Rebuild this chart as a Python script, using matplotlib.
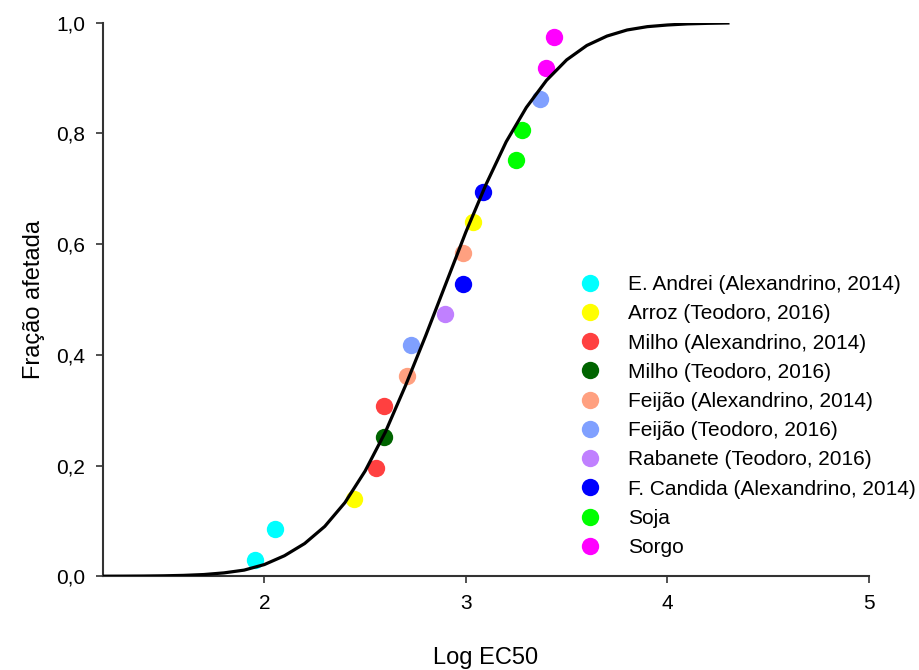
import matplotlib.pyplot as plt
from matplotlib.ticker import FuncFormatter

plt.rcParams['font.family'] = ['Liberation Sans', 'DejaVu Sans']

# fitted curve
curve_x = [1.2, 1.3, 1.4, 1.5, 1.6, 1.7, 1.8, 1.9, 2.0, 2.1, 2.2, 2.3, 2.4, 2.5,
           2.6, 2.7, 2.8, 2.9, 3.0, 3.1, 3.2, 3.3, 3.4, 3.5, 3.6, 3.7, 3.8, 3.9,
           4.0, 4.1, 4.2, 4.3]
curve_y = [0.0, 0.0001, 0.0003, 0.0007, 0.0015, 0.003, 0.006, 0.011, 0.021, 0.037,
           0.059, 0.09, 0.133, 0.19, 0.26, 0.344, 0.434, 0.528, 0.622, 0.708,
           0.785, 0.847, 0.896, 0.933, 0.959, 0.976, 0.987, 0.993, 0.996, 0.998,
           0.999, 0.9996]

labels = ['E. Andrei (Alexandrino, 2014)', 'Arroz (Teodoro, 2016)',
          'Milho (Alexandrino, 2014)', 'Milho (Teodoro, 2016)',
          'Feijão (Alexandrino, 2014)', 'Feijão (Teodoro, 2016)',
          'Rabanete (Teodoro, 2016)', 'F. Candida (Alexandrino, 2014)',
          'Soja', 'Sorgo']
colors = ['#00FFFF', '#FFFF00', '#FF4040', '#006400', '#FFA080',
          '#80A0FF', '#C080FF', '#0000FF', '#00FF00', '#FF00FF']
xs = [[1.955, 2.055], [2.443, 3.035], [2.552, 2.592], [2.592],
      [2.706, 2.985], [2.726, 3.368], [2.896], [2.985, 3.085],
      [3.249, 3.279], [3.398, 3.438]]
ys = [[0.029, 0.085], [0.139, 0.640], [0.195, 0.307], [0.251],
      [0.362, 0.584], [0.418, 0.863], [0.474], [0.528, 0.694],
      [0.752, 0.806], [0.919, 0.975]]

fig = plt.figure(figsize=(9.2, 6.7), dpi=100)
ax = fig.add_axes([0.112, 0.14, 0.8326, 0.826])

for lab, c, x, y in zip(labels, colors, xs, ys):
    ax.plot(x, y, 'o', color=c, markersize=12.5, markeredgewidth=0, label=lab, zorder=2)

ax.plot(curve_x, curve_y, color='black', linewidth=2.3, zorder=3)

ax.set_xlim(1.2, 5)
ax.set_ylim(0, 1.0)
ax.set_xticks([2, 3, 4, 5])
ax.set_yticks([0, 0.2, 0.4, 0.6, 0.8, 1.0])
ax.yaxis.set_major_formatter(FuncFormatter(lambda v, p: ('%.1f' % v).replace('.', ',')))
ax.xaxis.set_major_formatter(FuncFormatter(lambda v, p: '%d' % v))
ax.spines['top'].set_visible(False)
ax.spines['right'].set_visible(False)
for s in ['left', 'bottom']:
    ax.spines[s].set_color('#333333')
    ax.spines[s].set_linewidth(1.5)
ax.tick_params(direction='out', length=5, width=1.2, color='#333333',
               labelsize=15, pad=8)

ax.set_xlabel('Log EC50', fontsize=17, labelpad=24)
ax.set_ylabel('Fração afetada', fontsize=17, labelpad=8)

ax.legend(loc='upper left', bbox_to_anchor=(0.6155, 0.544), frameon=False,
          fontsize=15, handletextpad=1.08, labelspacing=0.49, borderaxespad=0,
          borderpad=0, handlelength=1.5)

plt.savefig('out.png', dpi=100)
